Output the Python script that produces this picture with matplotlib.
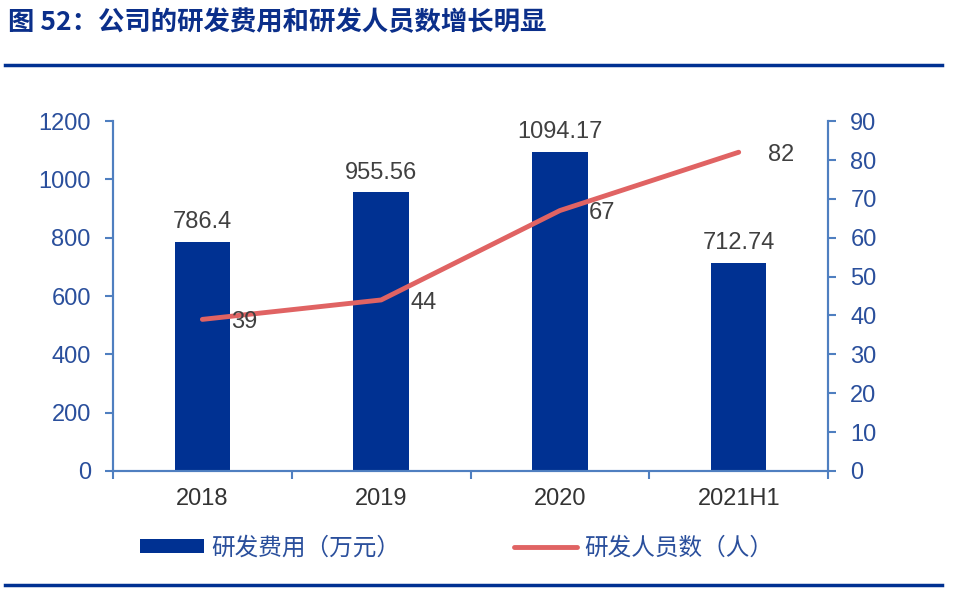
import matplotlib
matplotlib.use('Agg')
import matplotlib.pyplot as plt
import numpy as np

plt.rcParams['font.family'] = ['Liberation Sans', 'Noto Sans CJK SC', 'DejaVu Sans']

# 数据
years = ['2018', '2019', '2020', '2021H1']
rd_cost = [786.4, 955.56, 1094.17, 712.74]   # 研发费用（万元）
rd_staff = [39, 44, 67, 82]                  # 研发人员数（人）
cost_labels = ['786.4', '955.56', '1094.17', '712.74']

bar_color = '#003192'
line_color = '#e06363'
axis_color = '#4f7fc0'
tick_color = '#2a4f9c'
title_color = '#0b2f8a'
fs = 17

fig = plt.figure(figsize=(9.56, 5.90), dpi=100)

# 标题和分隔线
fig.text(0.008, 0.962, '图 52：公司的研发费用和研发人员数增长明显', fontsize=19,
         fontweight='bold', color=title_color, va='center', ha='left',
         family=['Noto Sans CJK SC', 'DejaVu Sans'])
fig.add_artist(plt.Line2D([0.005, 0.985], [0.89, 0.89], color='#003192', lw=2.5))
fig.add_artist(plt.Line2D([0.005, 0.985], [0.008, 0.008], color='#003192', lw=2.5))

ax = fig.add_axes([0.1182, 0.2017, 0.748, 0.593])
x = np.arange(len(years))
bars = ax.bar(x, rd_cost, width=0.31, color=bar_color, zorder=2, label='研发费用（万元）')
ax.set_xlim(-0.5, 3.5)
ax.set_ylim(0, 1200)
ax.set_yticks(range(0, 1201, 200))
for xi, v, s in zip(x, rd_cost, cost_labels):
    ax.text(xi, v + 30, s, ha='center', va='bottom', fontsize=fs, color='#404040')

ax2 = ax.twinx()
line, = ax2.plot(x, rd_staff, color=line_color, lw=3.5, zorder=3, label='研发人员数（人）',
                 solid_capstyle='round')
ax2.set_ylim(0, 90)
ax2.set_yticks(range(0, 91, 10))
for xi, v in zip(x, rd_staff):
    ax2.annotate(str(v), (xi, v), xytext=(21, -2), textcoords='offset points',
                 ha='left', va='center', fontsize=fs, color='#404040')

for a in (ax, ax2):
    a.spines['top'].set_visible(False)
    for s in ('left', 'right', 'bottom'):
        a.spines[s].set_color(axis_color)
        a.spines[s].set_linewidth(1.5)
    a.tick_params(axis='y', colors=axis_color, labelcolor=tick_color, labelsize=fs,
                  length=6, width=1.5, pad=10)

ax.set_xticks(x)
ax.set_xticklabels(years)
ax.tick_params(axis='x', length=0, labelsize=fs, labelcolor='#333333', pad=12)
ax.set_xticks(np.arange(-0.5, 4, 1), minor=True)
ax.tick_params(axis='x', which='minor', length=6, width=1.5, color=axis_color)

fig.legend(handles=[bars, line], labels=['研发费用（万元）', '研发人员数（人）'],
           loc='center', bbox_to_anchor=(0.478, 0.071), ncol=2, frameon=False,
           handlelength=2.7, handleheight=0.5, columnspacing=4.8,
           handletextpad=0.3, labelcolor=tick_color,
           prop={'family': ['Noto Sans CJK SC', 'DejaVu Sans'], 'size': fs})

fig.savefig('out.png', dpi=100)
